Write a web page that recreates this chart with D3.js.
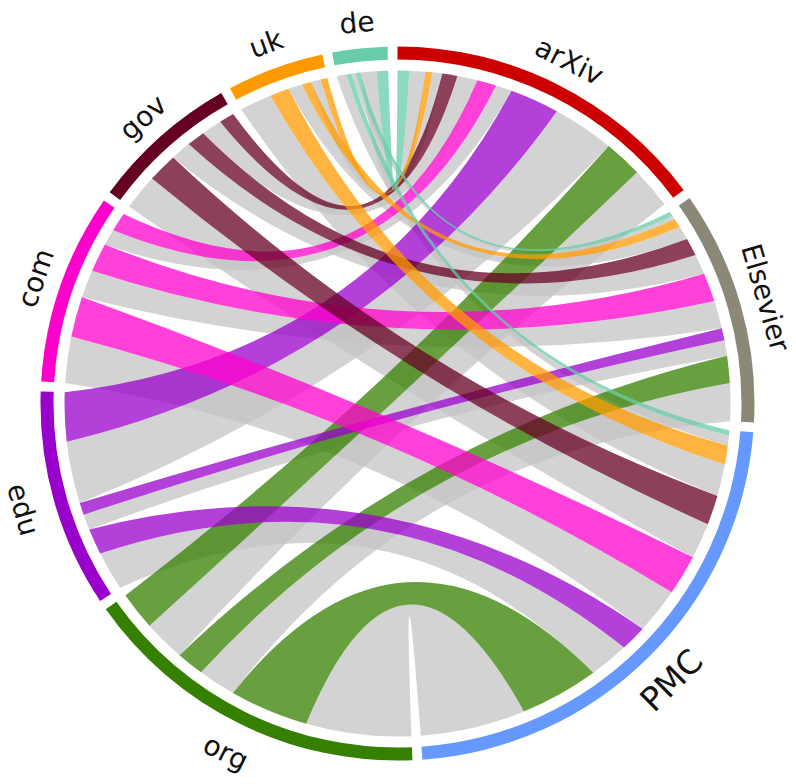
<!DOCTYPE html>
<html><head><meta charset="utf-8">
<script src="https://cdn.jsdelivr.net/npm/d3@7"></script>
<style>body{margin:0;background:#fff} svg text{font-family:"DejaVu Sans",sans-serif}</style>
</head><body><svg id="chart" width="796" height="784"></svg>
<script>
const groupNames = ["arXiv","Elsevier","PMC","org","edu","com","gov","uk","de"];
const groupColors = ["#CC0000","#8B8878","#6699FF","#358000","#9900CC","#FF00CC","#660022","#FF9900","#66CCAA"];
const targetNames = ["arXiv","Elsevier","PMC"];
const sourceNames = ["org","edu","com","gov","uk","de"];
// coloured link values: rows = sources, columns = targets (arXiv, Elsevier, PMC)
const highlighted = [
  [66, 47, 136],
  [85, 21, 45],
  [33, 50, 70],
  [26, 31, 51],
  [12, 16, 33],
  [20, 8, 9]
];
// grey link values: rows = sources, columns = targets (arXiv, Elsevier, PMC)
const other = [
  [72, 65, 182],
  [107, 27, 68],
  [28, 48, 80],
  [35, 35, 62],
  [17, 24, 55],
  [28, 7, 17]
];

const cx = 397.5, cy = 403.5;
const padAngle = 1.6 * Math.PI / 180;
const rChord = 333, rIn = 344, rOut = 357, rLabel = 386;
const bend = 0.28;
const n = groupNames.length;
const labelSize = name => name === "PMC" ? 33 : 28;

const targetTotals = targetNames.map((t, j) => d3.sum(sourceNames, (s, i) => highlighted[i][j] + other[i][j]));
const sourceTotals = sourceNames.map((s, i) => d3.sum(highlighted[i]) + d3.sum(other[i]));
const totals = groupNames.map(g => targetNames.includes(g) ? targetTotals[targetNames.indexOf(g)] : sourceTotals[sourceNames.indexOf(g)]);
const grand = d3.sum(totals);
const angle = d3.scaleLinear().domain([0, grand]).range([0, 2 * Math.PI - n * padAngle]);

let acc = 0;
const groupArcs = groupNames.map((g, k) => {
  const s = angle(acc) + k * padAngle;
  acc += totals[k];
  return {name: g, color: groupColors[k], startAngle: s, endAngle: s + angle(totals[k])};
});

const endsT = {}, endsS = {};
targetNames.forEach((t, j) => {
  let a = groupArcs[groupNames.indexOf(t)].startAngle;
  for (let i = sourceNames.length - 1; i >= 0; i--) {
    for (const type of ["hl", "other"]) {
      const v = type === "hl" ? highlighted[i][j] : other[i][j];
      endsT[i + "-" + j + "-" + type] = [a, a + angle(v)];
      a += angle(v);
    }
  }
});
sourceNames.forEach((s, i) => {
  let a = groupArcs[groupNames.indexOf(s)].startAngle;
  for (let j = targetNames.length - 1; j >= 0; j--) {
    for (const type of ["other", "hl"]) {
      const v = type === "hl" ? highlighted[i][j] : other[i][j];
      endsS[i + "-" + j + "-" + type] = [a, a + angle(v)];
      a += angle(v);
    }
  }
});

const P = th => [rChord * Math.sin(th), -rChord * Math.cos(th)];
const ctrl = (a, b) => { const A = P(a), B = P(b); return [bend * (A[0] + B[0]) / 2, bend * (A[1] + B[1]) / 2]; };
function ribbonPath(s, t) {
  const p = d3.path();
  const s0 = P(s[0]);
  p.moveTo(s0[0], s0[1]);
  p.arc(0, 0, rChord, s[0] - Math.PI / 2, s[1] - Math.PI / 2);
  let c = ctrl(s[1], t[0]); const t0 = P(t[0]);
  p.quadraticCurveTo(c[0], c[1], t0[0], t0[1]);
  p.arc(0, 0, rChord, t[0] - Math.PI / 2, t[1] - Math.PI / 2);
  c = ctrl(t[1], s[0]);
  p.quadraticCurveTo(c[0], c[1], s0[0], s0[1]);
  p.closePath();
  return p.toString();
}

const ribbons = [];
["other", "hl"].forEach(type => {
  sourceNames.forEach((s, i) => {
    targetNames.forEach((t, j) => {
      const key = i + "-" + j + "-" + type;
      ribbons.push({type, color: type === "hl" ? groupColors[groupNames.indexOf(s)] : "#c4c4c4", s: endsS[key], t: endsT[key]});
    });
  });
});

const svg = d3.select("#chart");
const g = svg.append("g").attr("transform", `translate(${cx},${cy})`);

g.append("g").selectAll("path").data(ribbons).join("path")
  .attr("d", d => ribbonPath(d.s, d.t))
  .attr("fill", d => d.color)
  .attr("fill-opacity", 0.75);

const arc = d3.arc().innerRadius(rIn).outerRadius(rOut);
g.append("g").selectAll("path").data(groupArcs).join("path")
  .attr("d", arc).attr("fill", d => d.color);

g.append("g").selectAll("text").data(groupArcs).join("text")
  .attr("transform", d => {
    const mid = (d.startAngle + d.endAngle) / 2;
    const deg = mid * 180 / Math.PI;
    const rot = (deg > 90 && deg < 270) ? deg - 180 : deg;
    return `translate(${rLabel * Math.sin(mid)},${-rLabel * Math.cos(mid)}) rotate(${rot})`;
  })
  .attr("text-anchor", "middle")
  .attr("dy", "0.45em")
  .attr("font-size", d => labelSize(d.name))
  .attr("fill", "#111")
  .text(d => d.name);
</script></body></html>
